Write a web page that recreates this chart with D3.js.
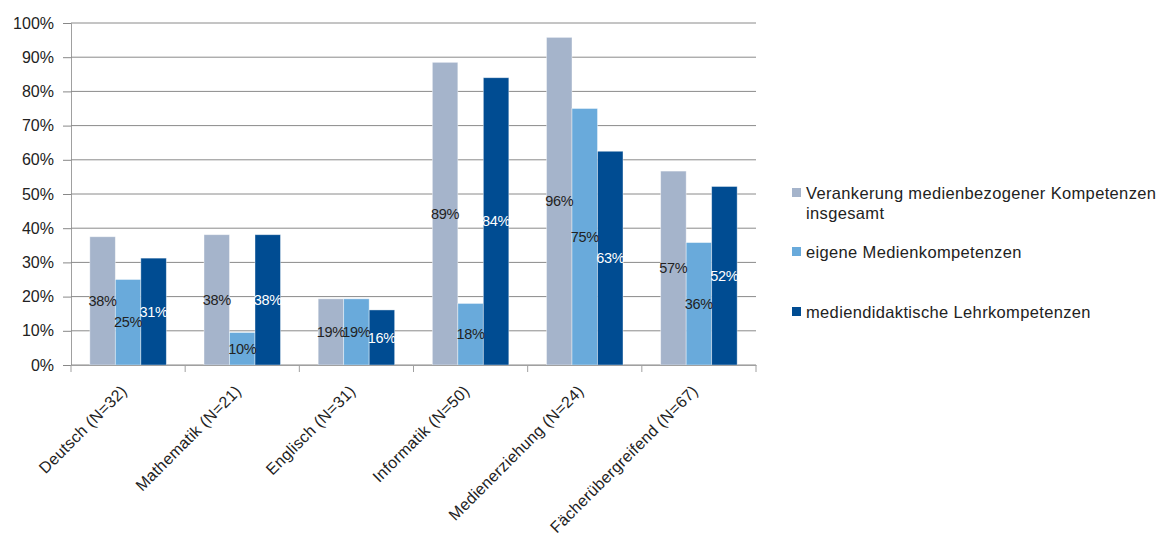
<!DOCTYPE html>
<html><head><meta charset="utf-8">
<script src="https://cdn.jsdelivr.net/npm/d3@7"></script>
<style>body{margin:0;background:#fff}svg{display:block}</style>
</head><body><svg id="c" width="1165" height="535"></svg>
<script>
const categories = ["Deutsch (N=32)","Mathematik (N=21)","Englisch (N=31)","Informatik (N=50)","Medienerziehung (N=24)","Fächerübergreifend (N=67)"];
const seriesNames = ["Verankerung medienbezogener Kompetenzen insgesamt","eigene Medienkompetenzen","mediendidaktische Lehrkompetenzen"];
const verankerung = [37.5, 38.1, 19.35, 88.5, 95.8, 56.7];
const eigene = [25.0, 9.5, 19.35, 18.0, 75.0, 35.8];
const mediendidaktisch = [31.25, 38.1, 16.1, 84.0, 62.5, 52.2];
const valueLabels = [["38%","38%","19%","89%","96%","57%"],["25%","10%","19%","18%","75%","36%"],["31%","38%","16%","84%","63%","52%"]];
const yTicks = [0,10,20,30,40,50,60,70,80,90,100];
const colors = ["#A5B4CB","#69AADB","#004C92"];
const labelColors = ["#222","#222","#fff"];
const series = [verankerung, eigene, mediendidaktisch];

const svg = d3.select("#c");
const L = 71, R = 756, T = 23, B = 365;
const x = d3.scaleBand().domain(categories).range([L, R]).paddingInner(0.33).paddingOuter(0.165);
const xb = d3.scaleBand().domain(categories).range([L, R]);
const xs = d3.scaleBand().domain([0,1,2]).range([0, x.bandwidth()]);
const y = d3.scaleLinear().domain([0,100]).range([B, T]);
const font = "'Liberation Sans', Arial, sans-serif";

// gridlines & y ticks
const yAxis = d3.axisLeft(y).tickValues(yTicks).tickFormat(d => d + "%").tickSize(8).tickPadding(9);
const ga = svg.append("g").attr("transform", `translate(${L},0)`).call(yAxis);
ga.select(".domain").attr("stroke", "#a0a0a0");
ga.selectAll(".tick line").attr("stroke", "#888");
ga.selectAll(".tick text").attr("font-family", font).attr("font-size", 16).attr("fill", "#222");
svg.append("g").selectAll("line").data(yTicks).join("line")
  .attr("x1", L).attr("x2", R).attr("y1", d => y(d)).attr("y2", d => y(d))
  .attr("stroke", "#8a8a8a").attr("stroke-width", 1);

// bars
series.forEach((vals, si) => {
  svg.append("g").selectAll("rect").data(vals).join("rect")
    .attr("x", (d,i) => x(categories[i]) + xs(si))
    .attr("y", d => y(d))
    .attr("width", xs.bandwidth())
    .attr("height", d => B - y(d))
    .attr("fill", colors[si])
    .attr("stroke", "rgba(255,255,255,0.5)").attr("stroke-width", 0.8);
});
series.forEach((vals, si) => {
  svg.append("g").selectAll("text").data(vals).join("text")
    .attr("x", (d,i) => x(categories[i]) + xs(si) + xs.bandwidth()/2)
    .attr("y", d => (y(d) + B)/2)
    .attr("dy", "0.35em")
    .attr("text-anchor", "middle")
    .attr("font-family", font).attr("font-size", 14.5).attr("letter-spacing", -0.3)
    .attr("fill", labelColors[si])
    .text((d,i) => valueLabels[si][i]);
});

// x axis
const xAxis = d3.axisBottom(xb).tickSize(0).tickFormat("");
const gx = svg.append("g").attr("transform", `translate(0,${B})`).call(xAxis);
gx.select(".domain").attr("stroke", "#a0a0a0");
const bounds = categories.map(c => xb(c)).concat([R]);
svg.append("g").selectAll("line").data(bounds).join("line")
  .attr("x1", d => d).attr("x2", d => d).attr("y1", B).attr("y2", B + 7)
  .attr("stroke", "#a0a0a0");
svg.append("g").selectAll("text").data(categories).join("text")
  .attr("transform", d => `translate(${xb(d) + xb.bandwidth()/2},${B + 27}) rotate(-45)`)
  .attr("text-anchor", "end")
  .attr("font-family", font).attr("font-size", 16).attr("letter-spacing", 0.3).attr("fill", "#222")
  .text(d => d);

// legend
const legendY = [193, 252, 312];
const lg = svg.append("g");
seriesNames.forEach((name, i) => {
  lg.append("rect").attr("x", 792).attr("y", legendY[i] - 5).attr("width", 9).attr("height", 9).attr("fill", colors[i]);
  const t = lg.append("text").attr("x", 806).attr("y", legendY[i]).attr("dy", "0.35em")
    .attr("font-family", font).attr("font-size", 16.5).attr("letter-spacing", 0.35).attr("fill", "#222");
  if (i === 0) {
    t.append("tspan").text("Verankerung medienbezogener Kompetenzen");
    t.append("tspan").attr("x", 806).attr("dy", "1.25em").text("insgesamt");
  } else t.text(name);
});
</script></body></html>
